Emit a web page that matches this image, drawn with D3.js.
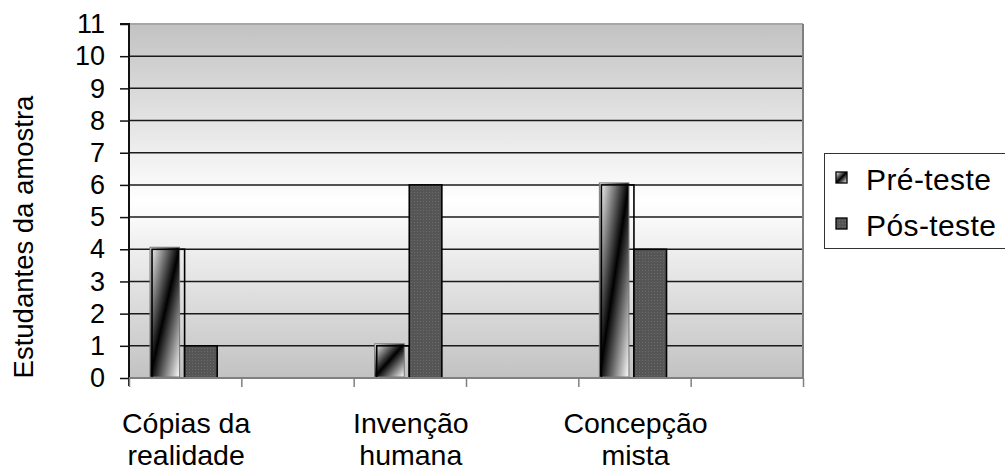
<!DOCTYPE html>
<html>
<head>
<meta charset="utf-8">
<script src="https://cdn.jsdelivr.net/npm/d3@7"></script>
<style>
body {margin:0; background:#fff;}
text {font-family:"Liberation Sans", Arial, sans-serif; fill:#000;}
</style>
</head>
<body>
<div id="chart"></div>
<script>
// categories: Excel showed only every other label, the others are blank
const categories = ["Cópias da realidade", "", "Invenção humana", "", "Concepção mista", ""];
const preTeste = [4, null, 1, null, 6, null];
const posTeste = [1, null, 6, null, 4, null];
const seriesNames = ["Pré-teste", "Pós-teste"];
const yTicks = d3.range(0, 12);
const yTitle = "Estudantes da amostra";

const width = 1005;
const height = 474;
const plot = {left:129, right:803, top:24, bottom:378};

const svg = d3.select("#chart")
    .append("svg")
    .attr("width", width)
    .attr("height", height);

const defs = svg.append("defs");

const bg = defs.append("linearGradient")
    .attr("id", "bg")
    .attr("x1", 0).attr("y1", 0).attr("x2", 0).attr("y2", 1);
bg.append("stop").attr("offset", "0%").attr("stop-color", "#c2c2c2");
bg.append("stop").attr("offset", "50%").attr("stop-color", "#ffffff");
bg.append("stop").attr("offset", "100%").attr("stop-color", "#c2c2c2");

const diag = defs.append("linearGradient")
    .attr("id", "diag")
    .attr("x1", 0).attr("y1", 0).attr("x2", 1).attr("y2", 1);
diag.append("stop").attr("offset", "0%").attr("stop-color", "#ffffff");
diag.append("stop").attr("offset", "50%").attr("stop-color", "#000000");
diag.append("stop").attr("offset", "100%").attr("stop-color", "#ffffff");

const dots = defs.append("pattern")
    .attr("id", "dots")
    .attr("patternUnits", "userSpaceOnUse")
    .attr("width", 3).attr("height", 3);
dots.append("rect").attr("width", 3).attr("height", 3).attr("fill", "#555555");
dots.append("rect").attr("width", 1).attr("height", 1).attr("fill", "#6c6c6c");

const x = d3.scaleBand()
    .domain(d3.range(categories.length))
    .range([plot.left, plot.right]);
const xSub = d3.scaleBand()
    .domain([0, 1])
    .range([x.bandwidth()*0.205, x.bandwidth()*0.785]);
const y = d3.scaleLinear()
    .domain([0, 11])
    .range([plot.bottom, plot.top]);

// plot area
svg.append("rect")
    .attr("x", plot.left)
    .attr("y", plot.top)
    .attr("width", plot.right-plot.left)
    .attr("height", plot.bottom-plot.top)
    .attr("fill", "url(#bg)");

svg.append("g")
    .selectAll("line")
    .data(yTicks.filter(d => d > 0 && d < 11))
    .enter()
    .append("line")
    .attr("x1", plot.left)
    .attr("x2", plot.right)
    .attr("y1", d => y(d))
    .attr("y2", d => y(d))
    .attr("stroke", "#1a1a1a")
    .attr("stroke-width", 1.5);

// top and right border
svg.append("line")
    .attr("x1", plot.left).attr("x2", plot.right)
    .attr("y1", plot.top).attr("y2", plot.top)
    .attr("stroke", "#a6a6a6").attr("stroke-width", 2);
svg.append("line")
    .attr("x1", plot.right).attr("x2", plot.right)
    .attr("y1", plot.top).attr("y2", plot.bottom)
    .attr("stroke", "#7f7f7f").attr("stroke-width", 2);

// bars
const rows = categories.map((c, i) => ({i:i, pre:preTeste[i], pos:posTeste[i]}));

const preBars = svg.append("g")
    .selectAll("g")
    .data(rows.filter(d => d.pre != null))
    .enter()
    .append("g");
preBars.append("rect")
    .attr("x", d => x(d.i) + xSub(0) - 2)
    .attr("y", d => y(d.pre) - 2)
    .attr("width", xSub.bandwidth() - 3)
    .attr("height", d => y(0) - y(d.pre) + 1)
    .attr("fill", "url(#diag)")
    .attr("stroke", "#777")
    .attr("stroke-width", 1);
preBars.append("rect")
    .attr("x", d => x(d.i) + xSub(0))
    .attr("y", d => y(d.pre))
    .attr("width", xSub.bandwidth())
    .attr("height", d => y(0) - y(d.pre))
    .attr("fill", "none")
    .attr("stroke", "#000")
    .attr("stroke-width", 1.6);

svg.append("g")
    .selectAll("rect")
    .data(rows.filter(d => d.pos != null))
    .enter()
    .append("rect")
    .attr("x", d => x(d.i) + xSub(1))
    .attr("y", d => y(d.pos))
    .attr("width", xSub.bandwidth())
    .attr("height", d => y(0) - y(d.pos))
    .attr("fill", "url(#dots)")
    .attr("stroke", "#000")
    .attr("stroke-width", 1.6);

// y axis
const yAxis = svg.append("g")
    .attr("transform", `translate(${plot.left},0)`)
    .call(d3.axisLeft(y).tickValues(yTicks).tickSize(9).tickPadding(15).tickFormat(d3.format("d")));
yAxis.select(".domain").attr("stroke", "#111").attr("stroke-width", 2)
    .attr("d", `M-9,${plot.top}H0V${plot.bottom+8}`);
yAxis.selectAll(".tick line").attr("stroke", "#111").attr("stroke-width", 1.5);
yAxis.selectAll("text")
    .style("font-family", "'Liberation Sans', Arial, sans-serif")
    .style("font-size", "27px")
    .attr("fill", "#000");

// x axis, ticks on the band edges
const xEdges = d3.scaleLinear().domain([0, categories.length]).range([plot.left, plot.right]);
const xAxis = svg.append("g")
    .attr("transform", `translate(0,${plot.bottom})`)
    .call(d3.axisBottom(xEdges).tickValues(d3.range(categories.length+1)).tickSize(9).tickFormat(""));
xAxis.select(".domain").attr("stroke", "#808080").attr("stroke-width", 2)
    .attr("d", `M${plot.left},0H${plot.right}`);
xAxis.selectAll(".tick line").attr("stroke", "#808080").attr("stroke-width", 1.5);

// category labels, two lines
const labels = svg.append("g")
    .selectAll("text")
    .data(categories.map((c, i) => ({i:i, c:c})).filter(d => d.c !== ""))
    .enter()
    .append("text")
    .attr("text-anchor", "middle")
    .style("font-size", "28.5px");
labels.each(function(d) {
    const cut = d.c.lastIndexOf(" ");
    const lines = [d.c.slice(0, cut), d.c.slice(cut+1)];
    const t = d3.select(this);
    lines.forEach((l, k) => {
        t.append("tspan")
            .attr("x", x(d.i) + x.bandwidth()/2 + 1)
            .attr("y", 433 + k*32)
            .text(l);
    });
});

// y title
svg.append("text")
    .attr("transform", `translate(33,${(plot.top+plot.bottom)/2 + 36}) rotate(-90)`)
    .attr("text-anchor", "middle")
    .style("font-size", "27.5px")
    .text(yTitle);

// legend
const legend = svg.append("g").attr("transform", "translate(824,153)");
legend.append("rect")
    .attr("x", 0.5).attr("y", 0.5)
    .attr("width", 182).attr("height", 95)
    .attr("fill", "#fff")
    .attr("stroke", "#333")
    .attr("stroke-width", 1);
const items = legend.selectAll(".item")
    .data(seriesNames)
    .enter()
    .append("g")
    .attr("class", "item")
    .attr("transform", (d, i) => `translate(0,${i*46})`);
items.append("rect")
    .attr("x", 12).attr("y", 19)
    .attr("width", 11).attr("height", 11)
    .attr("fill", (d, i) => i == 0 ? "url(#diag)" : "url(#dots)")
    .attr("stroke", "#000")
    .attr("stroke-width", 1.3);
items.append("text")
    .attr("x", 42)
    .attr("y", 37)
    .style("font-size", "30px")
    .style("letter-spacing", "0.4px")
    .text(d => d);
</script>
</body>
</html>
